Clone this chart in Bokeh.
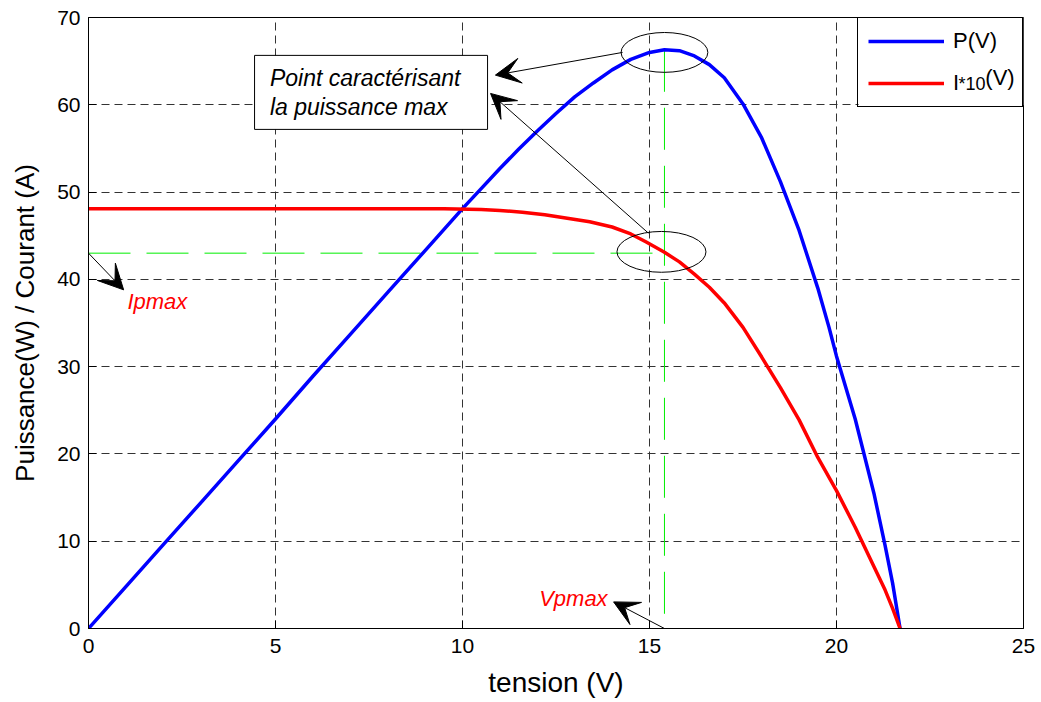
from bokeh.plotting import figure
from bokeh.models import (Range1d, FixedTicker, Arrow, VeeHead, Label,
                          BoxAnnotation)
from bokeh.embed import file_html
from bokeh.resources import INLINE

# ---- data ----
V_P = [0, 1, 2, 3, 4, 5, 6, 7, 8, 9, 10, 10.5, 11, 11.5, 12, 12.5, 13, 13.5,
       14, 14.5, 15, 15.4, 15.8, 16.2, 16.6, 17.0, 17.5, 18.0, 18.5, 19.0,
       19.5, 19.8, 20.0, 20.5, 21.0, 21.3, 21.5, 21.7]
P = [0, 4.8, 9.6, 14.4, 19.2, 24.0, 28.9, 33.7, 38.5, 43.3, 48.1, 50.4, 52.7,
     54.9, 57.0, 59.0, 60.9, 62.5, 64.0, 65.2, 66.0, 66.3, 66.2, 65.6, 64.6,
     63.1, 60.1, 56.2, 51.2, 45.6, 39.0, 34.5, 31.2, 24.0, 15.5, 9.5, 5.2, 0.0]

V_I = [0, 9.5, 10.5, 11.0, 11.6, 12.2, 12.8, 13.4, 14.0, 14.5, 14.9, 15.4,
       15.8, 16.2, 16.6, 17.0, 17.5, 18.0, 18.5, 19.0, 19.5, 20.0, 20.5, 21.0,
       21.3, 21.5, 21.7]
I10 = [48.1, 48.1, 48.0, 47.9, 47.7, 47.4, 47.0, 46.6, 46.0, 45.2, 44.3, 43.1,
       42.0, 40.6, 39.1, 37.3, 34.5, 31.1, 27.6, 23.9, 19.6, 15.8, 11.6, 7.1,
       4.4, 2.3, 0.0]

VPMAX = 15.4
PMAX = 66.3
IPMAX = 43.0

X_TICKS = [0, 5, 10, 15, 20, 25]
Y_TICKS = [0, 10, 20, 30, 40, 50, 60, 70]

FONT = "Liberation Sans"

p = figure(width=1035, height=700, x_range=Range1d(0, 25), y_range=Range1d(0, 70),
           output_backend="svg", toolbar_location=None,
           min_border_left=88, min_border_right=12, min_border_top=17,
           min_border_bottom=70, background_fill_color="white",
           border_fill_color="white")
p.outline_line_color = "black"
p.outline_line_width = 1

for ax in (p.xaxis[0], p.yaxis[0]):
    ax.major_label_text_font = FONT
    ax.major_label_text_font_size = "21px"
    ax.major_label_text_color = "black"
    ax.axis_label_text_font = FONT
    ax.axis_label_text_font_style = "normal"
    ax.axis_label_text_color = "black"
    ax.major_tick_in = 8
    ax.major_tick_out = 0
    ax.minor_tick_line_color = None
    ax.axis_line_color = "black"
    ax.major_tick_line_color = "black"

p.xaxis[0].ticker = FixedTicker(ticks=X_TICKS)
p.yaxis[0].ticker = FixedTicker(ticks=Y_TICKS)
p.xaxis[0].axis_label = "tension (V)"
p.yaxis[0].axis_label = "Puissance(W) / Courant (A)"
p.xaxis[0].axis_label_text_font_size = "28px"
p.yaxis[0].axis_label_text_font_size = "26px"
p.xaxis[0].major_label_standoff = 10
p.xaxis[0].axis_label_standoff = 11
p.yaxis[0].major_label_standoff = 8
p.yaxis[0].axis_label_standoff = 14

for g in (p.xgrid[0], p.ygrid[0]):
    g.grid_line_color = "#333333"
    g.grid_line_dash = "8 5"
    g.grid_line_width = 1

# green marker lines for the max power point
p.line([VPMAX, VPMAX], [PMAX, 0], line_color="#00ee00", line_width=1,
       line_dash="42 16")
p.line([0, VPMAX], [IPMAX, IPMAX], line_color="#00ee00", line_width=1,
       line_dash="42 16")

# curves
p.line(V_P, P, line_color="#0000ff", line_width=3.5, legend_label="P(V)")
p.line(V_I, I10, line_color="#ff0000", line_width=3.5, legend_label="I")

# ellipses around the points of interest
p.ellipse(x=[VPMAX], y=[PMAX - 0.3], width=2.32, height=4.57,
          fill_color=None, line_color="black", line_width=1)
p.ellipse(x=[VPMAX - 0.08], y=[IPMAX + 0.15], width=2.38, height=4.68,
          fill_color=None, line_color="black", line_width=1)

# annotation box
box = BoxAnnotation(left=4.44, right=10.67, bottom=57.18, top=65.66,
                    fill_color="white", fill_alpha=1.0, line_color="black",
                    line_width=1, line_alpha=1.0)
p.add_layout(box)
for txt, yy in (("Point caractérisant", 63.11), ("la puissance max", 59.76)):
    p.add_layout(Label(x=4.85, y=yy, text=txt, text_font=FONT,
                       text_font_size="23px", text_font_style="italic",
                       text_baseline="middle", text_align="left",
                       text_color="black"))

def arrow(x0, y0, x1, y1):
    p.add_layout(Arrow(end=VeeHead(size=25, fill_color="black",
                                   line_color="black", line_width=1),
                       x_start=x0, y_start=y0, x_end=x1, y_end=y1,
                       line_color="black", line_width=1))

arrow(VPMAX - 1.12, PMAX - 0.3, 10.88, 63.4)
arrow(VPMAX - 0.43, IPMAX + 2.3, 10.75, 61.3)
arrow(0, IPMAX, 0.94, 38.8)
arrow(VPMAX, 0, 14.04, 3.05)

p.add_layout(Label(x=1.04, y=37.5, text="Ipmax", text_font=FONT,
                   text_font_size="22px", text_font_style="italic",
                   text_color="#ff0000", text_baseline="middle",
                   text_align="left"))
p.add_layout(Label(x=13.88, y=3.4, text="Vpmax", text_font=FONT,
                   text_font_size="22px", text_font_style="italic",
                   text_color="#ff0000", text_baseline="middle",
                   text_align="right"))

# white backing behind the (transparent) legend so grid lines are hidden
p.add_layout(BoxAnnotation(left=20.59, right=25, bottom=59.95, top=70,
                           fill_color="white", fill_alpha=1.0,
                           line_color=None))
# subscript part of the second legend label
p.add_layout(Label(x=23.26, y=62.35, text="*10", text_font=FONT,
                   text_font_size="18px", text_baseline="middle",
                   text_align="left", text_color="black"))
p.add_layout(Label(x=23.98, y=63.15, text="(V)", text_font=FONT,
                   text_font_size="22px", text_baseline="middle",
                   text_align="left", text_color="black"))

# legend
lg = p.legend[0]
lg.location = "top_right"
lg.margin = 0
lg.padding = 10
lg.spacing = 16
lg.glyph_width = 76
lg.glyph_height = 20
lg.label_standoff = 9
lg.label_width = 59
lg.label_text_font = FONT
lg.label_text_font_size = "22px"
lg.label_text_color = "black"
lg.border_line_color = "black"
lg.border_line_width = 1
lg.border_line_alpha = 1.0
lg.background_fill_alpha = 0.0

open("out.html", "w").write(file_html(p, INLINE))
